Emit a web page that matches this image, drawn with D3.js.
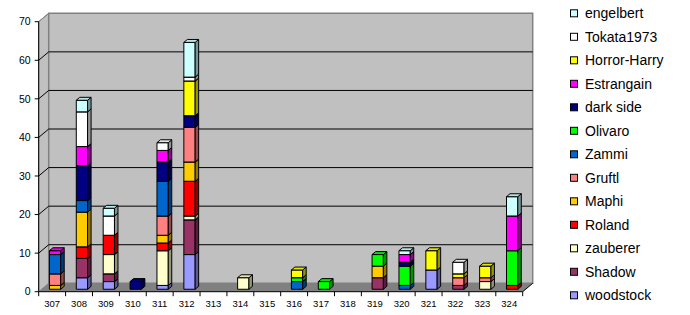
<!DOCTYPE html>
<html>
<head>
<meta charset="utf-8">
<script src="https://cdn.jsdelivr.net/npm/d3@7"></script>
<style>
  html, body { margin: 0; padding: 0; background: #fff; }
  svg { display: block; font-family: "Liberation Sans", Arial, sans-serif; }
</style>
</head>
<body>
<svg id="chart" width="690" height="315"></svg>
<script>
// Categories along the x axis
const categories = ["307","308","309","310","311","312","313","314","315","316","317","318","319","320","321","322","323","324"];

// Series, listed from the bottom of each stack upward
const seriesNames = ["woodstock","Shadow","zauberer","Roland","Maphi","Gruftl","Zammi","Olivaro","dark side","Estrangain","Horror-Harry","Tokata1973","engelbert"];
const seriesColors = ["#9999FF","#993366","#FFFFCC","#FF0000","#FFCC00","#FF8080","#0066CC","#00FF00","#000080","#FF00FF","#FFFF00","#FFFFFF","#CCFFFF"];

const woodstock   = [0,3,2,0,1,9,0,0,0,0,0,0,0,0,5,0,0,0];
const shadow      = [0,5,2,0,0,9,0,0,0,0,0,0,3,0,0,1,0,0];
const zauberer    = [0,0,5,0,9,1,0,3,0,0,0,0,0,0,0,0,2,0];
const roland      = [0,3,5,0,2,9,0,0,0,0,0,0,0,0,0,0,0,1];
const maphi       = [1,9,0,0,2,5,0,0,0,0,0,0,3,0,0,0,0,0];
const gruftl      = [3,0,0,0,5,9,0,0,0,0,0,0,0,0,0,2,1,0];
const zammi       = [5,3,0,0,9,0,0,0,0,2,0,0,0,1,0,0,0,0];
const olivaro     = [0,0,0,0,0,0,0,0,0,1,2,0,3,5,0,0,0,9];
const darkSide    = [0,9,0,2,5,3,0,0,0,0,0,0,0,1,0,0,0,0];
const estrangain  = [1,5,0,0,3,0,0,0,0,0,0,0,0,2,0,0,0,9];
const horrorHarry = [0,0,0,0,0,9,0,0,0,2,0,0,0,0,5,1,3,0];
const tokata1973  = [0,9,5,0,2,1,0,0,0,0,0,0,0,0,0,3,0,0];
const engelbert   = [0,3,2,0,0,9,0,0,0,0,0,0,0,1,0,0,0,5];

const seriesValues = [woodstock, shadow, zauberer, roland, maphi, gruftl, zammi, olivaro, darkSide, estrangain, horrorHarry, tokata1973, engelbert];

const yTicks = [0,10,20,30,40,50,60,70];

// Geometry of the 3-D box
const front = { left: 38.7, right: 522.7, bottom: 291.7, top: 21.7 };
const depth = { dx: 10, dy: -8.4 };

const svg = d3.select("#chart");

const x = d3.scaleBand().domain(categories).range([front.left, front.right]).padding(0);
const y = d3.scaleLinear().domain([0, 70]).range([front.bottom, front.top]);

const poly = pts => pts.map(p => p.join(",")).join(" ");

// Walls
const wall = svg.append("g");
// left wall
wall.append("polygon")
  .attr("points", poly([[front.left, y(70)], [front.left + depth.dx, y(70) + depth.dy], [front.left + depth.dx, y(0) + depth.dy], [front.left, y(0)]]))
  .attr("fill", "#C0C0C0").attr("stroke", "#808080").attr("stroke-width", 1);
// back wall
wall.append("polygon")
  .attr("points", poly([[front.left + depth.dx, y(70) + depth.dy], [front.right + depth.dx, y(70) + depth.dy], [front.right + depth.dx, y(0) + depth.dy], [front.left + depth.dx, y(0) + depth.dy]]))
  .attr("fill", "#C0C0C0").attr("stroke", "#808080").attr("stroke-width", 1.5);
// floor
wall.append("polygon")
  .attr("points", poly([[front.left, y(0)], [front.right, y(0)], [front.right + depth.dx, y(0) + depth.dy], [front.left + depth.dx, y(0) + depth.dy]]))
  .attr("fill", "#808080").attr("stroke", "none");

// Gridlines on left and back walls
const grid = svg.append("g").attr("stroke", "#000").attr("stroke-width", 1).attr("fill", "none");
yTicks.filter(t => t > 0 && t < 70).forEach(t => {
  grid.append("polyline")
    .attr("points", poly([[front.left, y(t)], [front.left + depth.dx, y(t) + depth.dy], [front.right + depth.dx, y(t) + depth.dy]]));
});

// Floor front and right edges
svg.append("polyline")
  .attr("points", poly([[front.left, y(0)], [front.right, y(0)], [front.right + depth.dx, y(0) + depth.dy]]))
  .attr("fill", "none").attr("stroke", "#000").attr("stroke-width", 1);
// top diagonal of left wall
svg.append("line")
  .attr("x1", front.left).attr("y1", y(70)).attr("x2", front.left + depth.dx).attr("y2", y(70) + depth.dy)
  .attr("stroke", "#808080");

// Value axis
const yAxis = svg.append("g");
yAxis.append("line")
  .attr("x1", front.left).attr("x2", front.left).attr("y1", y(0)).attr("y2", y(70))
  .attr("stroke", "#000");
yTicks.forEach(t => {
  yAxis.append("line").attr("x1", front.left - 4).attr("x2", front.left).attr("y1", y(t)).attr("y2", y(t)).attr("stroke", "#000");
  yAxis.append("text").attr("x", front.left - 8).attr("y", y(t)).attr("dy", "0.36em")
    .attr("text-anchor", "end").attr("font-size", 10.5).text(t);
});

// Category axis
const xAxis = svg.append("g");
const boundaries = categories.map(c => x(c)).concat([front.right]);
boundaries.forEach(b => {
  xAxis.append("line").attr("x1", b).attr("x2", b).attr("y1", y(0)).attr("y2", y(0) + 4.5).attr("stroke", "#000");
});
categories.forEach(c => {
  xAxis.append("text").attr("x", x(c) + x.bandwidth() / 2).attr("y", 306.5)
    .attr("text-anchor", "middle").attr("font-size", 9.5).text(c);
});

// Stacked 3-D columns
const stackData = categories.map((c, i) => {
  const row = { cat: c };
  seriesNames.forEach((s, k) => { row[s] = seriesValues[k][i]; });
  return row;
});
const stacked = d3.stack().keys(seriesNames)(stackData);

const barFrac = 0.29;        // depth position of the column's front face
const barDepthFrac = 0.35;   // column thickness as a share of the box depth
const barOffset = 10.7;      // from the left edge of the category band
const barWidth = 11.3;
const bx = { dx: depth.dx * barDepthFrac, dy: depth.dy * barDepthFrac };
const shiftY = depth.dy * barFrac;

const bars = svg.append("g").attr("stroke", "#000").attr("stroke-width", 1).attr("stroke-linejoin", "miter");
categories.forEach((c, i) => {
  const x0 = x(c) + barOffset, x1 = x0 + barWidth;
  stacked.forEach((layer, k) => {
    const seg = layer[i];
    if (seg[1] - seg[0] <= 0) return;
    const yb = y(seg[0]) + shiftY, yt = y(seg[1]) + shiftY;
    const col = d3.color(seriesColors[k]);
    const side = col.darker(1.5).formatHex();
    const top = col.darker(0.3).formatHex();
    const g = bars.append("g");
    g.append("polygon").attr("points", poly([[x0, yt], [x1, yt], [x1, yb], [x0, yb]])).attr("fill", col.formatHex());
    g.append("polygon").attr("points", poly([[x1, yt], [x1 + bx.dx, yt + bx.dy], [x1 + bx.dx, yb + bx.dy], [x1, yb]])).attr("fill", side);
    g.append("polygon").attr("points", poly([[x0, yt], [x1, yt], [x1 + bx.dx, yt + bx.dy], [x0 + bx.dx, yt + bx.dy]])).attr("fill", top);
  });
});

// Legend, top series first
const legend = svg.append("g");
const legendOrder = d3.range(seriesNames.length).reverse();
legendOrder.forEach((k, r) => {
  const cy = 13.3 + r * 23.5;
  legend.append("rect").attr("x", 570.5).attr("y", cy - 3.5).attr("width", 7).attr("height", 7)
    .attr("fill", seriesColors[k]).attr("stroke", "#000").attr("stroke-width", 1);
  legend.append("text").attr("x", 585).attr("y", cy).attr("dy", "0.36em")
    .attr("font-size", 14).text(seriesNames[k]);
});
</script>
</body>
</html>
